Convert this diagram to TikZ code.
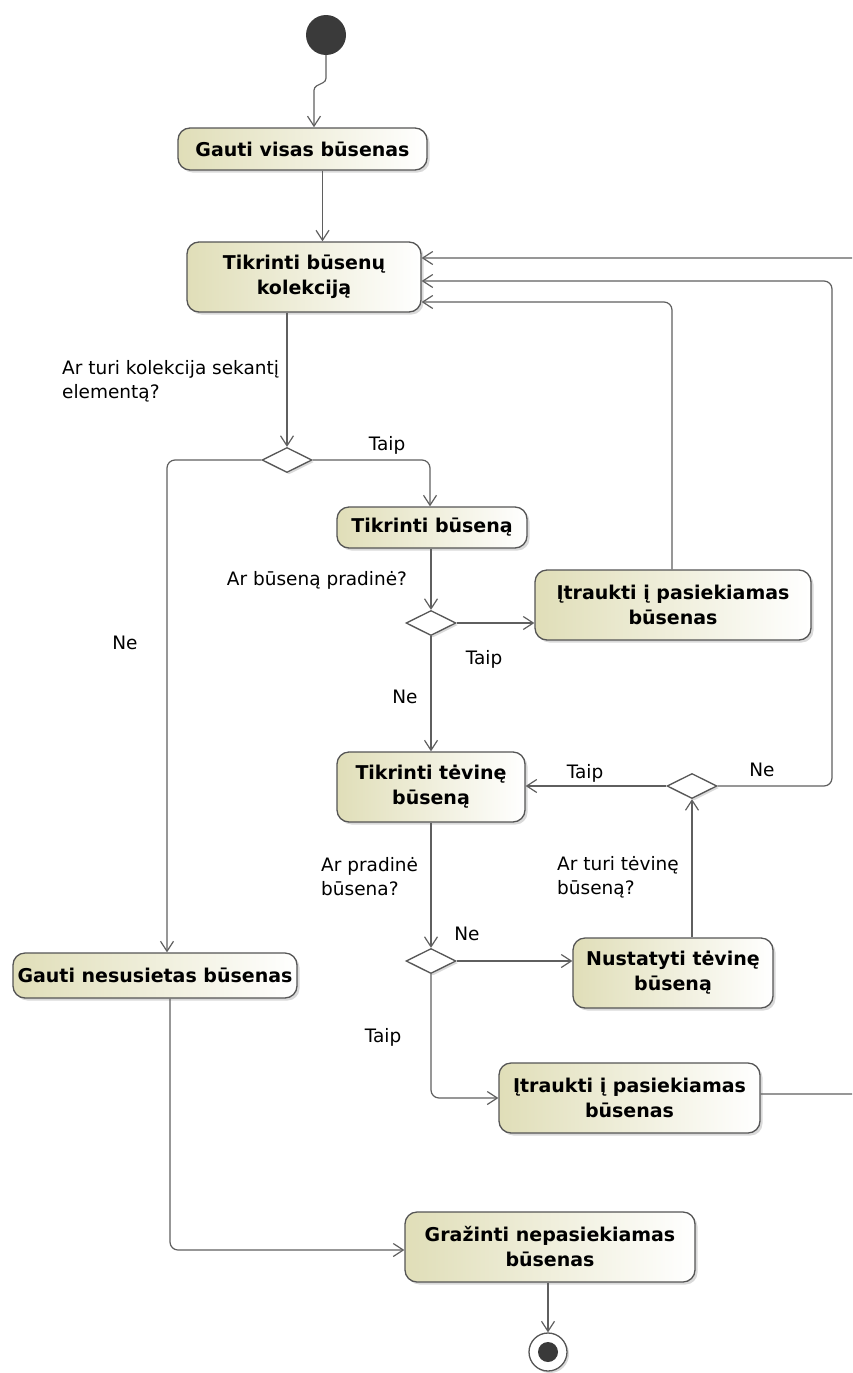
\documentclass[tikz,border=0pt]{standalone}
\usepackage{fontspec}
\setmainfont{DejaVu Sans}
\usetikzlibrary{shapes.geometric,arrows.meta,shadows}
\definecolor{actfill}{RGB}{224,222,184}
\definecolor{actline}{RGB}{85,85,85}
\definecolor{flowline}{RGB}{95,95,95}
\definecolor{startfill}{RGB}{58,58,58}

\begin{document}
\begin{tikzpicture}[x=1pt,y=-1pt,
	action/.style={draw=actline,line width=1.3pt,rounded corners=12pt,left color=actfill,right color=white,
		drop shadow={shadow xshift=2.5pt,shadow yshift=-2.5pt,opacity=0.3},
		align=center,inner sep=0pt,font=\fontsize{19}{25}\selectfont\bfseries},
	decision/.style={diamond,draw=actline,fill=white,line width=1.3pt,minimum width=50pt,minimum height=25pt,inner sep=0pt,
		drop shadow={shadow xshift=2pt,shadow yshift=-2pt,opacity=0.3}},
	flow/.style={draw=flowline,line width=1.2pt,rounded corners=8pt,-{Straight Barb[length=10pt,width=13pt,line width=1.2pt]}},
	guard/.style={font=\fontsize{18.5}{24}\selectfont,align=left,inner sep=0pt}]
	\useasboundingbox (0,0) rectangle (852,1373);
	\clip (0,0) rectangle (852,1373);
	\node[circle,fill=startfill,inner sep=0,minimum size=40pt] (start) at (326,35) {};
	\node[action,minimum width=249pt,minimum height=42pt] (gauti) at (302.5,149) {Gauti visas būsenas};
	\node[action,minimum width=234pt,minimum height=70pt] (tikrK) at (304,277) {Tikrinti būsenų\\kolekciją};
	\node[decision] (d1) at (287,460) {};
	\node[action,minimum width=190pt,minimum height=41pt] (tikrB) at (432,527.5) {Tikrinti būseną};
	\node[decision] (d2) at (431,623) {};
	\node[action,minimum width=276pt,minimum height=70pt] (itr1) at (673,605) {Įtraukti į pasiekiamas\\būsenas};
	\node[action,minimum width=188pt,minimum height=70pt] (tikrT) at (431,787) {Tikrinti tėvinę\\būseną};
	\node[decision] (d3) at (692,786) {};
	\node[decision] (d4) at (431,961) {};
	\node[action,minimum width=200pt,minimum height=70pt] (nust) at (673,973) {Nustatyti tėvinę\\būseną};
	\node[action,minimum width=261pt,minimum height=70pt] (itr2) at (629.5,1098) {Įtraukti į pasiekiamas\\būsenas};
	\node[action,minimum width=284pt,minimum height=45pt] (gautiN) at (155,975.5) {Gauti nesusietas būsenas};
	\node[action,minimum width=290pt,minimum height=70pt] (graz) at (550,1247) {Gražinti nepasiekiamas\\būsenas};
	\node[circle,draw=actline,fill=white,line width=1.3pt,inner sep=0,minimum size=38pt,
		drop shadow={shadow xshift=2pt,shadow yshift=-2pt,opacity=0.3}] (end) at (548,1352) {};
	\node[circle,fill=startfill,inner sep=0,minimum size=20pt] (endDot) at (end) {};
	\coordinate (loopA) at (832,281);
	\coordinate (loopB) at (880,258);

	\draw[flow,rounded corners=3pt] (start.south) -- ++(0,26) -- ++(-12,6) -- ++(0,40);
	\draw[flow] ([xshift=20pt]gauti.south) -- ([xshift=20pt]gauti.south |- tikrK.north);
	\draw[flow] (d1.north |- tikrK.south) -- (d1.north);
	\draw[flow] (d1.west) -| ([xshift=12pt]gautiN.north);
	\draw[flow] (d1.east) -| ([xshift=-2pt]tikrB.north);
	\draw[flow] ([xshift=-1pt]tikrB.south) -- (d2.north);
	\draw[flow] (d2.east) -- (d2.east -| itr1.west);
	\draw[flow] ([xshift=-1pt]itr1.north) |- ([yshift=-25pt]tikrK.east);
	\draw[flow] (d2.south) -- (tikrT.north);
	\draw[flow] (tikrT.south) -- (d4.north);
	\draw[flow] (d4.east) -- (d4.east -| nust.west);
	\draw[flow] (d3.south |- nust.north) -- (d3.south);
	\draw[flow] (d3.west) -- (d3.west -| tikrT.east);
	\draw[flow] (d3.east) -| (loopA) -- (loopA -| tikrK.east);
	\draw[flow] (d4.south) |- (itr2.west);
	\draw[flow] ([yshift=4pt]itr2.east) -| (loopB) -- (loopB -| tikrK.east);
	\draw[flow] ([xshift=15pt]gautiN.south) |- ([yshift=-3pt]graz.west);
	\draw[flow] (end.north |- graz.south) -- (end.north);

	\node[guard,anchor=west] (qKol) at (62,381) {Ar turi kolekcija sekantį\\elementą?};
	\node[guard] (yes1) at (387,445) {Taip};
	\node[guard] (no1) at (125,643) {Ne};
	\node[guard] (qPrad) at (317,580) {Ar būseną pradinė?};
	\node[guard] (yes2) at (484,659) {Taip};
	\node[guard] (no2) at (405,697) {Ne};
	\node[guard] (yes3) at (585,773) {Taip};
	\node[guard] (no3) at (762,770) {Ne};
	\node[guard,anchor=west] (qPrad2) at (321,877) {Ar pradinė\\būsena?};
	\node[guard,anchor=west] (qTev) at (557,877) {Ar turi tėvinę\\būseną?};
	\node[guard] (no4) at (467,934) {Ne};
	\node[guard] (yes4) at (383,1037) {Taip};
\end{tikzpicture}
\end{document}
